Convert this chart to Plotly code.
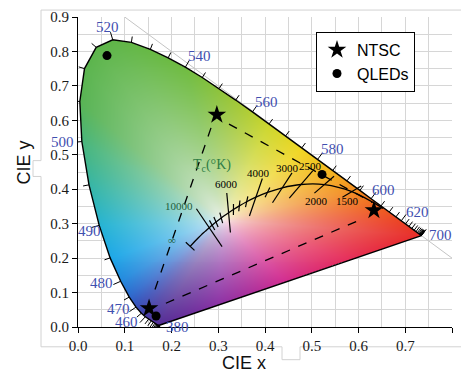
import base64
import struct
import zlib

import numpy as np
import plotly.graph_objects as go

# ---------------- data ----------------
# CIE 1931 2-degree spectral locus, 5 nm steps
wavelengths = list(range(380, 701, 5))
locus_x = [0.1741, 0.1740, 0.1738, 0.1736, 0.1733, 0.1730, 0.1726, 0.1721, 0.1714, 0.1703,
           0.1689, 0.1669, 0.1644, 0.1611, 0.1566, 0.1510, 0.1440, 0.1355, 0.1241, 0.1096,
           0.0913, 0.0687, 0.0454, 0.0235, 0.0082, 0.0039, 0.0139, 0.0389, 0.0743, 0.1142,
           0.1547, 0.1929, 0.2296, 0.2658, 0.3016, 0.3373, 0.3731, 0.4087, 0.4441, 0.4788,
           0.5125, 0.5448, 0.5752, 0.6029, 0.6270, 0.6482, 0.6658, 0.6801, 0.6915, 0.7006,
           0.7079, 0.7140, 0.7190, 0.7230, 0.7260, 0.7283, 0.7300, 0.7311, 0.7320, 0.7327,
           0.7334, 0.7340, 0.7344, 0.7346, 0.7347]
locus_y = [0.0050, 0.0050, 0.0049, 0.0049, 0.0048, 0.0048, 0.0048, 0.0048, 0.0051, 0.0058,
           0.0069, 0.0086, 0.0109, 0.0138, 0.0177, 0.0227, 0.0297, 0.0399, 0.0578, 0.0868,
           0.1327, 0.2007, 0.2950, 0.4127, 0.5384, 0.6548, 0.7502, 0.8120, 0.8338, 0.8262,
           0.8059, 0.7816, 0.7543, 0.7243, 0.6923, 0.6589, 0.6245, 0.5896, 0.5547, 0.5202,
           0.4866, 0.4544, 0.4242, 0.3965, 0.3725, 0.3514, 0.3340, 0.3197, 0.3083, 0.2993,
           0.2920, 0.2859, 0.2809, 0.2770, 0.2740, 0.2717, 0.2700, 0.2689, 0.2680, 0.2673,
           0.2666, 0.2660, 0.2656, 0.2654, 0.2653]

# wavelengths carrying a printed label
label_wl = [380, 460, 470, 480, 490, 500, 520, 540, 560, 580, 600, 620, 700]

# Planckian locus (x, y) by colour temperature in K
planck_T = [1000, 1500, 2000, 2500, 3000, 3500, 4000, 4500, 5000, 5500, 6000, 6500,
            7000, 8000, 9000, 10000, 12000, 15000, 20000, float("inf")]
planck_x = [0.6528, 0.5857, 0.5267, 0.4770, 0.4369, 0.4053, 0.3805, 0.3608, 0.3451, 0.3325,
            0.3221, 0.3135, 0.3064, 0.2952, 0.2869, 0.2807, 0.2719, 0.2637, 0.2565, 0.2399]
planck_y = [0.3444, 0.3931, 0.4133, 0.4137, 0.4041, 0.3907, 0.3768, 0.3636, 0.3516, 0.3411,
            0.3318, 0.3237, 0.3166, 0.3048, 0.2956, 0.2884, 0.2776, 0.2675, 0.2577, 0.2342]
iso_long_T = [10000, 6000, 4000, 3000, 2500, 2000, 1500]
iso_short_T = [9000, 8000, 7000, 5500, 5000, 4500, 3500]
temp_labels = ["10000", "6000", "4000", "3000", "2500", "2000", "1500", "\u221e"]
temp_label_T = [10000, 6000, 4000, 3000, 2500, 2000, 1500, float("inf")]
mccamy_epicenter = (0.3320, 0.1858)

# gamut points
ntsc_x = [0.633, 0.297, 0.152]
ntsc_y = [0.339, 0.616, 0.054]
qled_x = [0.062, 0.522, 0.167]
qled_y = [0.788, 0.443, 0.032]

# dashed triangle sides (start x, start y, end x, end y)
dash_x0 = [0.2845, 0.323, 0.188]
dash_y0 = [0.578, 0.589, 0.069]
dash_x1 = [0.1626, 0.629, 0.612]
dash_y1 = [0.1006, 0.362, 0.316]

# fill colours around the boundary (x, y, rgb)
anchor_x = [0.7347, 0.6915, 0.6482, 0.6029, 0.5448, 0.4788, 0.4087, 0.3373, 0.2296, 0.0743,
            0.0039, 0.0082, 0.0235, 0.0454, 0.0687, 0.0913, 0.1096, 0.1241, 0.1440, 0.1741,
            0.30, 0.45, 0.60]
anchor_y = [0.2653, 0.3083, 0.3514, 0.3965, 0.4544, 0.5202, 0.5896, 0.6589, 0.7543, 0.8338,
            0.6548, 0.5384, 0.4127, 0.2950, 0.2007, 0.1327, 0.0868, 0.0578, 0.0297, 0.0050,
            0.0590, 0.1190, 0.1890]
anchor_rgb = [(232, 45, 40), (236, 68, 36), (240, 100, 30), (243, 140, 30), (245, 182, 30),
              (240, 215, 35), (205, 215, 45), (160, 200, 55), (112, 188, 65), (95, 182, 72),
              (88, 180, 85), (72, 182, 125), (55, 182, 165), (38, 180, 212), (30, 168, 232),
              (35, 138, 222), (45, 105, 205), (55, 80, 185), (70, 60, 165), (85, 45, 150),
              (140, 50, 165), (210, 45, 145), (230, 45, 90)]
white_rgb = (248, 246, 246)
white_xy = (0.31, 0.31)

# ---------------- geometry helpers ----------------
X_RANGE, Y_RANGE = (0.0, 0.8), (0.0, 0.9)
W, H = 461, 372
M_L, M_R, M_T, M_B = 78, 9, 14, 45
PW, PH = W - M_L - M_R, H - M_T - M_B
SX = PW / (X_RANGE[1] - X_RANGE[0])  # px per x unit
SY = PH / (Y_RANGE[1] - Y_RANGE[0])  # px per y unit

lx = np.array(locus_x)
ly = np.array(locus_y)
n_loc = len(lx)


def seg_trace(xs, ys, **kw):
    return go.Scatter(x=xs, y=ys, mode="lines", hoverinfo="skip", showlegend=False, **kw)


def outward_normal(i):
    j0, j1 = max(i - 2, 0), min(i + 2, n_loc - 1)
    dx = (lx[j1] - lx[j0]) * SX
    dy = (ly[j1] - ly[j0]) * SY
    L = np.hypot(dx, dy)
    nx, ny = -dy / L, dx / L
    return nx / SX, ny / SY


# ---------------- colour fill image ----------------
nxi = int(np.ceil(0.76 * SX))
nyi = int(np.ceil(0.85 * SY))
dxi, dyi = 1.0 / SX, 1.0 / SY
gx = (np.arange(nxi) + 0.5) * dxi
gy = (np.arange(nyi) + 0.5) * dyi
XX, YY = np.meshgrid(gx, gy)

inside = np.zeros(XX.shape, dtype=bool)
for k in range(n_loc):
    x1, y1 = lx[k], ly[k]
    x2, y2 = lx[(k + 1) % n_loc], ly[(k + 1) % n_loc]
    if y1 == y2:
        continue
    cond = (y1 > YY) != (y2 > YY)
    xint = (x2 - x1) * (YY - y1) / (y2 - y1) + x1
    inside ^= cond & (XX < xint)

# boundary distance from the white point as a function of angle
bx, by = [], []
for k in range(n_loc):
    x1, y1 = lx[k], ly[k]
    x2, y2 = lx[(k + 1) % n_loc], ly[(k + 1) % n_loc]
    tt = np.linspace(0, 1, 40, endpoint=False)
    bx.extend(x1 + (x2 - x1) * tt)
    by.extend(y1 + (y2 - y1) * tt)
bx, by = np.array(bx), np.array(by)
b_ang = np.arctan2(by - white_xy[1], bx - white_xy[0])
b_rad = np.hypot(bx - white_xy[0], by - white_xy[1])
order = np.argsort(b_ang)
b_ang, b_rad = b_ang[order], b_rad[order]

p_ang = np.arctan2(YY - white_xy[1], XX - white_xy[0])
p_rad = np.hypot(XX - white_xy[0], YY - white_xy[1])
edge_rad = np.interp(p_ang, b_ang, b_rad, period=2 * np.pi)
s = np.clip(p_rad / edge_rad, 0, 1)
t = s ** 0.6

a_ang = np.arctan2(np.array(anchor_y) - white_xy[1], np.array(anchor_x) - white_xy[0])
a_rgb = np.array(anchor_rgb, dtype=float)
ao = np.argsort(a_ang)
rgba = np.zeros(XX.shape + (4,), dtype=np.uint8)
for c in range(3):
    edge_c = np.interp(p_ang, a_ang[ao], a_rgb[ao, c], period=2 * np.pi)
    rgba[..., c] = np.clip(white_rgb[c] * (1 - t) + edge_c * t, 0, 255).astype(np.uint8)
rgba[..., 3] = np.where(inside, 255, 0).astype(np.uint8)


def png_uri(arr):
    h, w, _ = arr.shape
    raw = b"".join(b"\x00" + arr[r].tobytes() for r in range(h))

    def chunk(tag, data):
        body = tag + data
        return struct.pack(">I", len(data)) + body + struct.pack(">I", zlib.crc32(body) & 0xFFFFFFFF)

    png = (b"\x89PNG\r\n\x1a\n"
           + chunk(b"IHDR", struct.pack(">IIBBBBB", w, h, 8, 6, 0, 0, 0))
           + chunk(b"IDAT", zlib.compress(raw, 9))
           + chunk(b"IEND", b""))
    return "data:image/png;base64," + base64.b64encode(png).decode()


fig = go.Figure()

# x + y = 1 reference line
fig.add_trace(seg_trace([0.1, 0.8], [0.9, 0.2], line=dict(color="#c4c4c4", width=1)))

fig.add_trace(go.Image(source=png_uri(rgba), x0=dxi / 2, y0=dyi / 2, dx=dxi, dy=dyi,
                       hoverinfo="skip"))

# spectral locus outline with purple line
fig.add_trace(seg_trace(list(lx) + [lx[0]], list(ly) + [ly[0]],
                        line=dict(color="black", width=1.4)))

# wavelength ticks
tx, ty = [], []
for i, w in enumerate(wavelengths):
    nx, ny = outward_normal(i)
    L = 8 if w in label_wl else 6
    tx += [lx[i], lx[i] + nx * L, None]
    ty += [ly[i], ly[i] + ny * L, None]
fig.add_trace(seg_trace(tx, ty, line=dict(color="black", width=1)))

# Planckian locus
fig.add_trace(seg_trace(planck_x, planck_y, line=dict(color="black", width=1.3, shape="spline")))

pk = {T: (px, py) for T, px, py in zip(planck_T, planck_x, planck_y)}


def isotherm(T, length):
    px, py = pk[T]
    ex, ey = mccamy_epicenter
    dx, dy = (px - ex) * SX, (py - ey) * SY
    L = np.hypot(dx, dy)
    ux, uy = dx / L * length / 2 / SX, dy / L * length / 2 / SY
    return [px - ux, px + ux, None], [py - uy, py + uy, None]


ix, iy = [], []
for T, ln in zip(iso_long_T, [46, 40, 40, 36, 36, 26, 22]):
    a, b = isotherm(T, ln)
    ix += a
    iy += b
for T in iso_short_T:
    a, b = isotherm(T, 11)
    ix += a
    iy += b
# end bar at infinite temperature, perpendicular to the curve
ex0, ey0 = pk[float("inf")]
ex1, ey1 = pk[20000]
tdx, tdy = (ex1 - ex0) * SX, (ey1 - ey0) * SY
tl = np.hypot(tdx, tdy)
bxn, byn = tdy / tl * 6 / SX, -tdx / tl * 6 / SY
ix += [ex0 - bxn, ex0 + bxn, None]
iy += [ey0 - byn, ey0 + byn, None]
fig.add_trace(seg_trace(ix, iy, line=dict(color="black", width=1.2)))

# dashed triangle
dx_, dy_ = [], []
for a, b, c, d in zip(dash_x0, dash_y0, dash_x1, dash_y1):
    dx_ += [a, c, None]
    dy_ += [b, d, None]
fig.add_trace(seg_trace(dx_, dy_, line=dict(color="black", width=1.3, dash="dash")))

fig.add_trace(go.Scatter(x=ntsc_x, y=ntsc_y, mode="markers", name="NTSC",
                         marker=dict(symbol="star", size=14, color="black"), hoverinfo="skip"))
fig.add_trace(go.Scatter(x=qled_x, y=qled_y, mode="markers", name="QLEDs",
                         marker=dict(symbol="circle", size=9, color="black"), hoverinfo="skip"))

annotations = []
# wavelength labels
wl_shift = {380: (18, -2), 460: (-19, -5), 470: (-18, -2), 480: (-19, -2), 490: (-10, -6),
            500: (-19, 0), 520: (-5, 13), 540: (14, 11), 560: (14, 10), 580: (15, 10),
            600: (12, 9), 620: (16, 9), 700: (19, 1)}
for w in label_wl:
    i = wavelengths.index(w)
    sx, sy = wl_shift[w]
    annotations.append(dict(x=lx[i], y=ly[i], xref="x", yref="y", text=str(w), showarrow=False,
                            xshift=sx, yshift=sy, xanchor="center", yanchor="middle",
                            font=dict(family="Liberation Serif", size=15, color="#3f4fb0")))
# temperature labels
t_shift = [(-30, 22), (-2, 29), (3, 24), (5, 20), (9, 19), (-8, -16), (-4, -9), (-18, 6)]
t_col = ["#1f5e3a", "black", "black", "black", "black", "black", "black", "#1f5e3a"]
for txt, T, (sx, sy), col in zip(temp_labels, temp_label_T, t_shift, t_col):
    px, py = pk[T]
    annotations.append(dict(x=px, y=py, xref="x", yref="y", text=txt, showarrow=False,
                            xshift=sx, yshift=sy, xanchor="center", yanchor="middle",
                            font=dict(family="Liberation Serif", size=11, color=col)))
annotations.append(dict(x=0.286, y=0.469, xref="x", yref="y", text="T<sub>c</sub>(\u00b0K)",
                        showarrow=False, xanchor="center", yanchor="middle",
                        font=dict(family="Liberation Serif", size=14, color="#2f7d45")))


def pxp(px):
    return (px - M_L) / PW


def pyp(py):
    return (H - M_B - py) / PH


annotations.append(dict(x=pxp(244), y=pyp(363), xref="paper", yref="paper", text="CIE x",
                        showarrow=False, xanchor="center", yanchor="middle",
                        font=dict(family="Liberation Sans", size=18, color="#111")))
annotations.append(dict(x=pxp(24), y=pyp(161), xref="paper", yref="paper", text="CIE y",
                        textangle=-90, showarrow=False, xanchor="center", yanchor="middle",
                        font=dict(family="Liberation Sans", size=18, color="#111")))

frame_pts = [(461, 7), (41, 7), (41, 159), (33, 159), (33, 175), (41, 175), (41, 347),
             (282, 347), (282, 360), (300, 360), (300, 347), (461, 347)]
frame_path = "M " + " L ".join(f"{pxp(a):.4f},{pyp(b):.4f}" for a, b in frame_pts)

fig.update_layout(
    width=W, height=H, margin=dict(l=M_L, r=M_R, t=M_T, b=M_B),
    paper_bgcolor="white", plot_bgcolor="white",
    annotations=annotations,
    shapes=[dict(type="path", path=frame_path, xref="paper", yref="paper",
                 line=dict(color="#d2d2d2", width=1), layer="below")],
    legend=dict(x=pxp(316), y=pyp(29), xanchor="left", yanchor="top",
                bordercolor="black", borderwidth=1, bgcolor="white",
                font=dict(family="Liberation Sans", size=16, color="black")),
)
axis_common = dict(showline=True, linecolor="black", linewidth=1, ticks="outside", ticklen=5,
                   tickcolor="black", showgrid=True, gridcolor="#d6d6d6", gridwidth=1,
                   zeroline=False, tick0=0, dtick=0.1, tickformat=".1f",
                   minor=dict(dtick=0.05, showgrid=True, gridcolor="#d6d6d6"),
                   tickfont=dict(family="Liberation Serif", size=15, color="#1a1a1a"))
fig.update_xaxes(range=list(X_RANGE), **axis_common)
fig.update_yaxes(range=list(Y_RANGE), scaleanchor=False, **axis_common)

fig.write_html("out.html")
